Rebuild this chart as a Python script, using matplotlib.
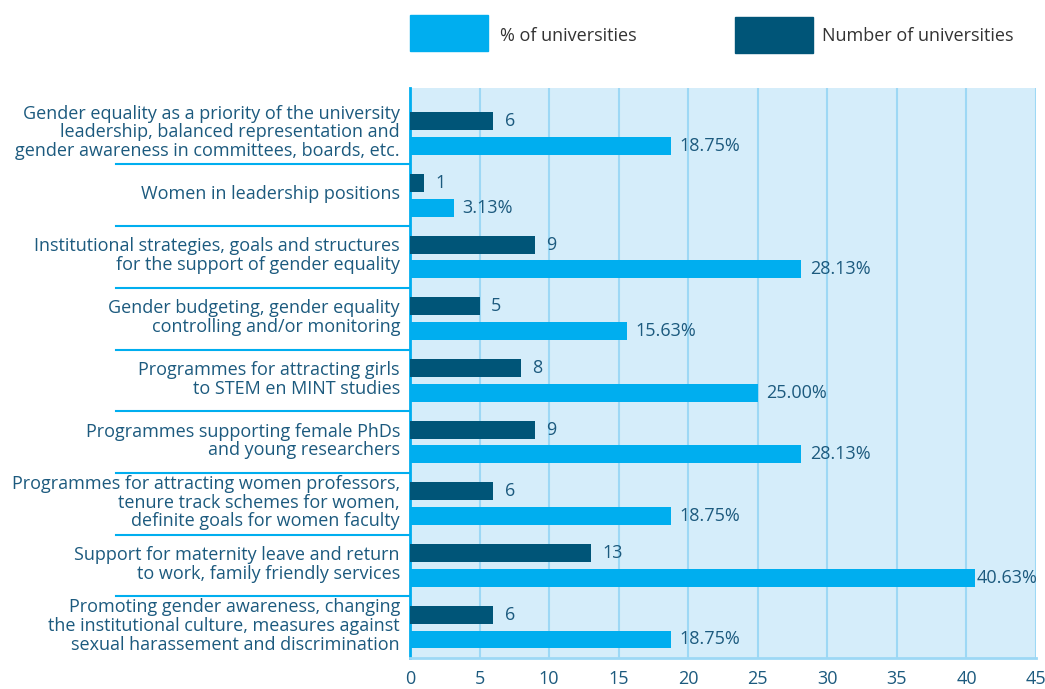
import matplotlib.pyplot as plt
import matplotlib.transforms as mtransforms
from matplotlib.patches import Rectangle
import numpy as np

plt.rcParams['font.family'] = ['Open Sans', 'DejaVu Sans']

# ---data---
categories = [
    "Gender equality as a priority of the university\nleadership, balanced representation and\ngender awareness in committees, boards, etc.",
    "Women in leadership positions",
    "Institutional strategies, goals and structures\nfor the support of gender equality",
    "Gender budgeting, gender equality\ncontrolling and/or monitoring",
    "Programmes for attracting girls\nto STEM en MINT studies",
    "Programmes supporting female PhDs\nand young researchers",
    "Programmes for attracting women professors,\ntenure track schemes for women,\ndefinite goals for women faculty",
    "Support for maternity leave and return\nto work, family friendly services",
    "Promoting gender awareness, changing\nthe institutional culture, measures against\nsexual harassement and discrimination",
]
numUniversities = [6, 1, 9, 5, 8, 9, 6, 13, 6]
pctUniversities = [18.75, 3.13, 28.13, 15.63, 25.00, 28.13, 18.75, 40.63, 18.75]
xticks = [0, 5, 10, 15, 20, 25, 30, 35, 40, 45]

# ---colours---
lightBlue = '#00AEEF'
darkBlue = '#005578'
bgBlue = '#D5EDFA'
gridBlue = '#9DD8F5'
textBlue = '#1C5A7E'
fs = 13

fig = plt.figure(figsize=(10.45, 6.89), dpi=100)
ax = fig.add_axes([410/1045, 1-658/689, 626/1045, 570/689])
ax.set_facecolor(bgBlue)

y = np.arange(len(categories))
barH = 0.29
ax.barh(y - 0.2, numUniversities, height=barH, color=darkBlue, zorder=3)
ax.barh(y + 0.2, pctUniversities, height=barH, color=lightBlue, zorder=3)

for i in range(len(categories)):
    ax.annotate(str(numUniversities[i]), (numUniversities[i], y[i] - 0.2),
                xytext=(8, 0), textcoords='offset points', va='center', ha='left',
                fontsize=fs, color=textBlue)
    ax.annotate('%.2f%%' % pctUniversities[i], (pctUniversities[i], y[i] + 0.2),
                xytext=(1 if pctUniversities[i] > 40 else 6, 0), textcoords='offset points',
                va='center', ha='left', fontsize=fs, color=textBlue)

ax.set_xlim(0, 45)
ax.set_ylim(8.5, -0.74)
ax.set_xticks(xticks)
ax.set_yticks([])
ax.tick_params(axis='x', length=0, pad=9, labelsize=fs, labelcolor=textBlue)
ax.xaxis.grid(True, color=gridBlue, linewidth=1.5, zorder=0)
ax.set_axisbelow(True)

for side in ['top', 'right']:
    ax.spines[side].set_visible(False)
ax.spines['left'].set_color(lightBlue)
ax.spines['left'].set_linewidth(2)
ax.spines['bottom'].set_color(gridBlue)
ax.spines['bottom'].set_linewidth(2)

# category labels and separators left of the axis
trans = mtransforms.blended_transform_factory(ax.transAxes, ax.transData)
for i, cat in enumerate(categories):
    ax.text(-10/626, y[i] - 0.02, cat, transform=trans, ha='right', va='center',
            fontsize=fs, color=textBlue, linespacing=1.05)
    if i < len(categories) - 1:
        ax.plot([-294/626, 0], [y[i] + 0.5, y[i] + 0.5], transform=trans,
                color=lightBlue, linewidth=1.5, clip_on=False)

# legend
fig.patches.append(Rectangle((410/1045, 1-51/689), 78/1045, 36/689,
                             transform=fig.transFigure, color=lightBlue))
fig.text(500/1045, 1-36/689, '% of universities', va='center', ha='left',
         fontsize=fs, color='#333333')
fig.patches.append(Rectangle((735/1045, 1-53/689), 78/1045, 36/689,
                             transform=fig.transFigure, color=darkBlue))
fig.text(822/1045, 1-36/689, 'Number of universities', va='center', ha='left',
         fontsize=fs, color='#333333')

plt.savefig('out.png', dpi=100)
